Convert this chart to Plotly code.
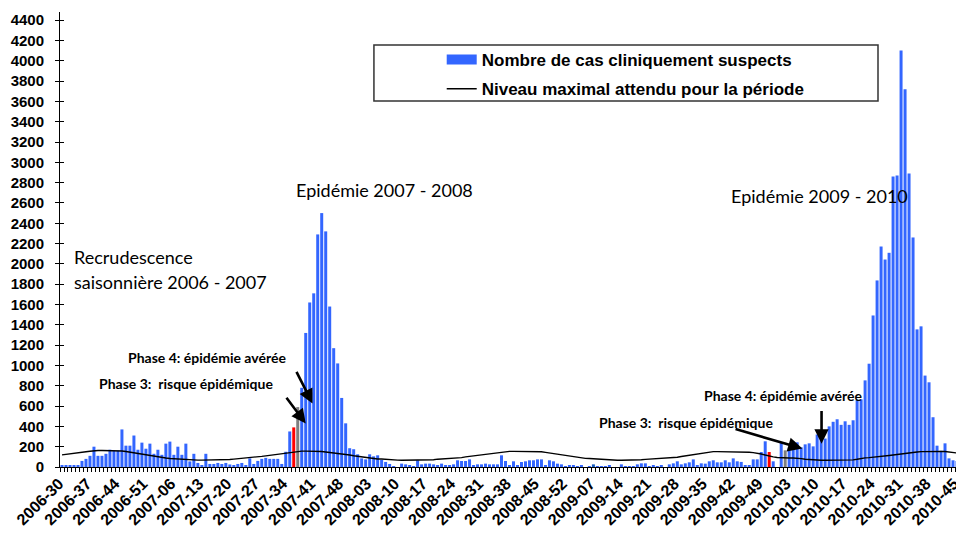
import plotly.graph_objects as go

# weekly categories, 2006-30 .. 2010-45 (2009 has 53 ISO weeks)
weeks_per_year = {2006: 52, 2007: 52, 2008: 52, 2009: 53, 2010: 45}
weeks = []
for year, last in weeks_per_year.items():
    start = 30 if year == 2006 else 1
    weeks += [f"{year}-{w:02d}" for w in range(start, last + 1)]

# Nombre de cas cliniquement suspects
cases = [
    15, 20, 10, 20, 20, 60, 80, 110, 200, 110,
    110, 130, 170, 160, 160, 370, 210, 210, 310, 170,
    240, 180, 230, 130, 170, 120, 230, 250, 120, 200,
    120, 230, 55, 130, 40, 20, 130, 30, 30, 40,
    30, 40, 25, 20, 30, 40, 15, 85, 30, 60,
    80, 90, 80, 80, 80, 30, 150, 350, 390, 590,
    780, 1320, 1620, 1710, 2290, 2500, 2320, 1580, 1170, 1020,
    680, 430, 185, 175, 125, 85, 75, 125, 105, 115,
    70, 50, 30, 7, 0, 33, 26, 16, 7, 66,
    26, 33, 33, 26, 16, 33, 13, 20, 26, 66,
    59, 59, 75, 16, 26, 26, 33, 26, 26, 26,
    115, 59, 16, 56, 16, 49, 56, 66, 66, 75,
    75, 16, 66, 56, 33, 26, 7, 16, 16, 7,
    16, 0, 7, 26, 7, 7, 7, 16, 0, 0,
    26, 7, 7, 7, 26, 36, 36, 7, 16, 7,
    16, 0, 26, 36, 56, 26, 36, 46, 75, 16,
    36, 33, 56, 66, 46, 46, 66, 46, 85, 56,
    50, 16, 16, 75, 75, 148, 253, 148, 56, 0,
    243, 164, 184, 253, 243, 194, 223, 233, 203, 320,
    300, 280, 400, 445, 470, 415, 450, 415, 460, 660,
    666, 853, 1017, 1492, 1837, 2171, 2043, 2109, 2860, 2870,
    4100, 3720, 2890, 2260, 1355, 1385, 900, 834, 490, 210,
    160, 233, 85, 66, 59,
]

# Niveau maximal attendu pour la periode
threshold = [
    119, 123, 128, 133, 140, 145, 150, 155, 160, 162,
    162, 162, 160, 160, 160, 157, 152, 145, 142, 135,
    128, 120, 112, 105, 97, 92, 88, 84, 81, 79,
    77, 75, 72, 70, 68, 68, 68, 68, 68, 68,
    68, 70, 74, 78, 81, 85, 88, 92, 96, 100,
    105, 110, 115, 122, 129, 134, 140, 145, 150, 155,
    156, 156, 156, 155, 154, 152, 148, 144, 140, 135,
    130, 125, 118, 111, 105, 98, 91, 86, 82, 79,
    79, 78, 76, 72, 68, 66, 66, 66, 66, 66,
    66, 66, 68, 72, 77, 79, 79, 80, 82, 85,
    92, 100, 105, 110, 115, 120, 126, 131, 136, 142,
    148, 153, 154, 154, 154, 154, 154, 154, 154, 154,
    150, 144, 138, 131, 125, 118, 110, 103, 97, 90,
    87, 85, 83, 80, 78, 72, 68, 66, 66, 66,
    66, 66, 66, 66, 66, 72, 75, 77, 79, 80,
    83, 86, 90, 93, 96, 103, 109, 115, 120, 125,
    132, 140, 148, 151, 151, 151, 151, 151, 151, 151,
    150, 148, 145, 142, 138, 128, 118, 107, 100, 94,
    90, 89, 89, 89, 88, 82, 76, 72, 70, 68,
    66, 66, 66, 66, 66, 66, 66, 66, 70, 76,
    86, 90, 92, 95, 98, 103, 108, 113, 118, 124,
    131, 135, 140, 144, 148, 151, 153, 154, 154, 154,
    154, 152, 148, 143, 138,
]

phase3_weeks = ["2007-36", "2009-51"]
phase4_weeks = ["2007-37", "2010-02"]
highlight_weeks = ["2009-07"]

BLUE = "#3366FF"
AXIS_FONT = dict(family="Liberation Sans", size=15, color="black", weight="bold")

bar_colors = []
for w in weeks:
    if w in phase3_weeks:
        bar_colors.append("#FF0000")
    elif w in phase4_weeks:
        bar_colors.append("#7F7F7F")
    elif w in highlight_weeks:
        bar_colors.append("#1A5FC0")
    else:
        bar_colors.append(BLUE)

fig = go.Figure()
fig.add_trace(go.Bar(x=weeks, y=cases, marker=dict(color=bar_colors, line=dict(width=0)), showlegend=False))
# legend swatch for the bars (wide rectangle like the original legend)
fig.add_trace(go.Scatter(x=[None], y=[None], mode="lines", line=dict(color=BLUE, width=11),
                         name="Nombre de cas cliniquement suspects", legendgroup="a"))
fig.add_trace(go.Scatter(x=weeks, y=threshold, mode="lines", line=dict(color="black", width=1.4),
                         name="Niveau maximal attendu pour la période", yaxis="y2", legendgroup="b"))

YMAX = 4480
# the page body has an 8px margin, so the figure is sized to fit the window
fig.update_layout(
    width=956,
    height=526,
    margin=dict(l=52, r=2, t=4, b=67),
    plot_bgcolor="white",
    paper_bgcolor="white",
    bargap=0.25,
    legend=dict(
        x=0.4246, y=0.934, xanchor="left", yanchor="top",
        font=dict(family="Liberation Sans", size=17, color="black", weight="bold"),
        bgcolor="rgba(0,0,0,0)", tracegroupgap=4, traceorder="grouped",
    ),
    xaxis=dict(
        type="category", showline=True, linecolor="black", linewidth=1,
        ticks="outside", ticklen=4, tickcolor="black", tickson="boundaries",
        tickmode="linear", tick0=0, dtick=1, ticklabelstep=7, tickangle=-45,
        ticklabelshift=-3, tickfont=dict(AXIS_FONT, size=16), showgrid=False,
    ),
    yaxis=dict(
        range=[0, YMAX], tickmode="linear", tick0=0, dtick=200,
        showline=True, linecolor="black", linewidth=1,
        ticks="outside", ticklen=4, tickcolor="black", ticklabelstandoff=8,
        tickfont=AXIS_FONT, showgrid=False, zeroline=False,
    ),
    yaxis2=dict(
        range=[0, YMAX], overlaying="y", side="left", tickmode="linear", tick0=0, dtick=200,
        ticks="inside", ticklen=4, tickcolor="black", showticklabels=False,
        showline=False, showgrid=False, zeroline=False,
    ),
    shapes=[
        dict(type="rect", xref="paper", yref="paper", x0=0.3492, x1=0.9099, y0=0.8044, y1=0.9275,
             line=dict(color="#333333", width=1.5), fillcolor="rgba(0,0,0,0)"),
    ],
)

TEXT_FONT = dict(family="Lato", size=18, color="black")
PHASE_FONT = dict(family="Lato", size=14, color="black", weight="bold")

labels = [
    ("Epidémie 2007 - 2008", 80.8, 2725, "center", TEXT_FONT),
    ("Epidémie 2009 - 2010", 189.5, 2665, "center", TEXT_FONT),
    ("Recrudescence", 2.5, 2066, "left", TEXT_FONT),
    ("saisonnière 2006 - 2007", 2.5, 1819, "left", TEXT_FONT),
    ("Phase 4: épidémie avérée", 16.0, 1080, "left", PHASE_FONT),
    ("Phase 3:  risque épidémique", 8.7, 824, "left", PHASE_FONT),
    ("Phase 4: épidémie avérée", 160.3, 706, "left", PHASE_FONT),
    ("Phase 3:  risque épidémique", 133.9, 440, "left", PHASE_FONT),
]
for text, x, y, anchor, font in labels:
    fig.add_annotation(x=x, y=y, xref="x", yref="y", text=text, showarrow=False,
                       xanchor=anchor, yanchor="middle", font=font)

# arrows: (tail x, tail y, head x, head y)
arrows = [
    (58.5, 952, 62.7, 625),
    (55.9, 696, 61.0, 428),
    (168.2, 378, 185.3, 181),
    (190.1, 565, 190.1, 230),
]
for ax, ay, hx, hy in arrows:
    fig.add_annotation(x=hx, y=hy, ax=ax, ay=ay, xref="x", yref="y", axref="x", ayref="y",
                       text="", showarrow=True, arrowhead=2, arrowsize=1.1, arrowwidth=2.6,
                       arrowcolor="black")

fig.write_html("out.html")
